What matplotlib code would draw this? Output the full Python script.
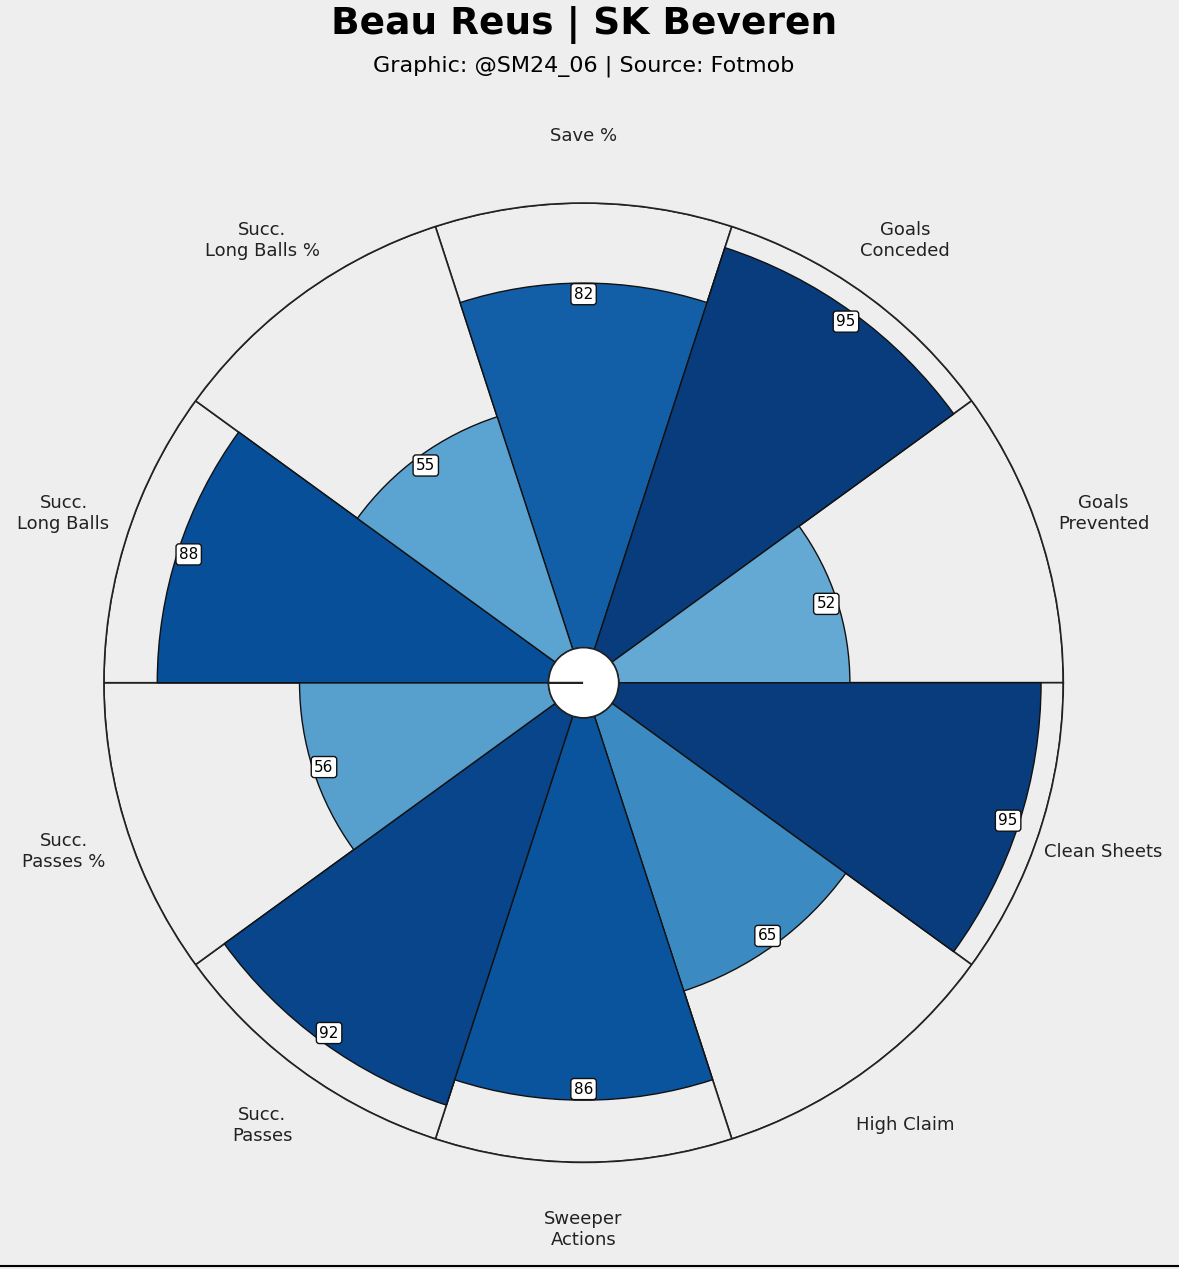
import numpy as np
import matplotlib
matplotlib.use("Agg")
import matplotlib.pyplot as plt
from matplotlib.lines import Line2D

params = ["Save %", "Goals\nConceded", "Goals\nPrevented", "Clean Sheets", "High Claim",
          "Sweeper\nActions", "Succ.\nPasses", "Succ.\nPasses %", "Succ.\nLong Balls", "Succ.\nLong Balls %"]
values = [82, 95, 52, 95, 65, 86, 92, 56, 88, 55]

bg = "#efeeef"
fig = plt.figure(figsize=(11.79, 12.69), dpi=100, facecolor=bg)
ax = fig.add_axes([0.088, 0.084, 0.814, 0.756], projection="polar")
ax.set_facecolor(bg)
hole = 7.9
n = len(params)
width = 2 * np.pi / n
thetas = np.deg2rad(90 - 36 * np.arange(n))
cmap = plt.get_cmap("Blues")

ax.bar(thetas, [100] * n, width=width, bottom=hole, color=bg, edgecolor="#222222", linewidth=1.2, zorder=1)
for t, v in zip(thetas, values):
    ax.bar(t, v, width=width, bottom=hole, color=cmap(v / 100), edgecolor="#111111", linewidth=1.0, zorder=2)
    ax.text(t, hole + v - 2.5, str(v), ha="center", va="center", fontsize=11, zorder=5,
            bbox=dict(boxstyle="round,pad=0.2", fc="white", ec="#111111", lw=1))
for t, p in zip(thetas, params):
    ax.text(t, 123, p, ha="center", va="center", fontsize=13, color="#222222", clip_on=False)
ax.bar(0, hole, width=2 * np.pi, bottom=0, color="white", edgecolor="#222222", linewidth=1.2, zorder=4)
ax.plot([np.pi / 2, np.pi / 2], [0, 5.5], color="white", lw=2, zorder=6)

ax.set_ylim(0, hole + 100)
ax.set_xticks([]); ax.set_yticks([])
ax.grid(False)
ax.spines["polar"].set_color("#222222")
ax.spines["polar"].set_linewidth(1.2)

fig.text(0.495, 0.98, "Beau Reus | SK Beveren", ha="center", va="center", fontsize=27, fontweight="bold")
fig.text(0.495, 0.948, "Graphic: @SM24_06 | Source: Fotmob", ha="center", va="center", fontsize=16)
fig.add_artist(Line2D([0, 1], [0.002, 0.002], color="black", lw=1.5))
fig.savefig("out.png", dpi=100, facecolor=bg)
